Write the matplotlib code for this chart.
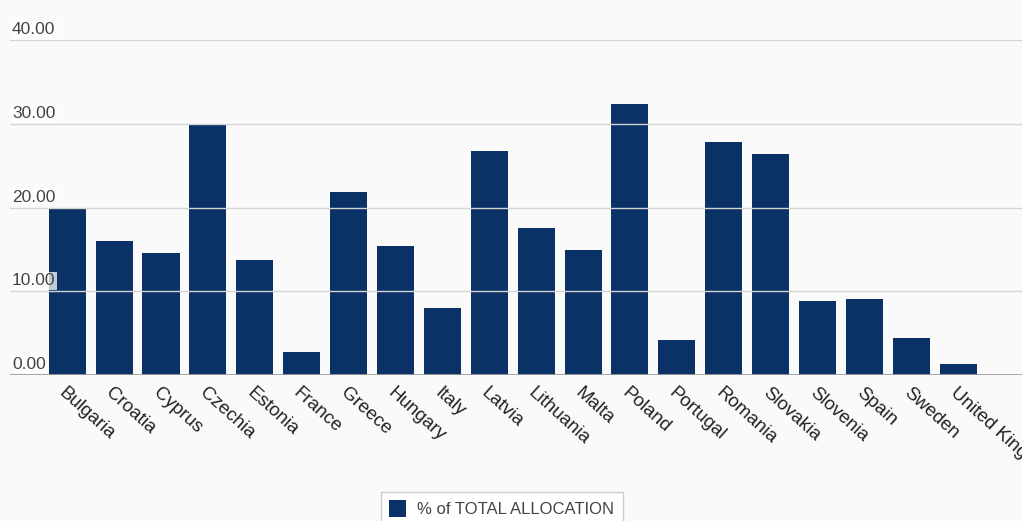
import matplotlib.pyplot as plt
from matplotlib.transforms import blended_transform_factory

plt.rcParams['font.family'] = ['Liberation Sans', 'DejaVu Sans']

countries = ['Bulgaria', 'Croatia', 'Cyprus', 'Czechia', 'Estonia', 'France', 'Greece',
             'Hungary', 'Italy', 'Latvia', 'Lithuania', 'Malta', 'Poland', 'Portugal',
             'Romania', 'Slovakia', 'Slovenia', 'Spain', 'Sweden', 'United Kingdom']
share = [19.9, 16.0, 14.6, 29.8, 13.7, 2.7, 21.8, 15.4, 8.0, 26.8,
         17.5, 14.9, 32.3, 4.2, 27.8, 26.4, 8.8, 9.1, 4.4, 1.3]
yticks = [0, 10, 20, 30, 40]
series_name = '% of TOTAL ALLOCATION'

bg = '#fafafa'
navy = '#0a3266'

# figure and axes
fig = plt.figure(figsize=(10.22, 5.21), dpi=100, facecolor=bg)
ax = fig.add_axes([10 / 1022, 1 - 375 / 521, 1 - 10 / 1022, (375 - 40) / 521])
ax.set_facecolor(bg)

# bars
x = range(len(countries))
ax.bar(x, share, width=0.79, color=navy, zorder=2, label=series_name)

# limits
ax.set_xlim(-1.22, len(countries) - 1 + 1.36)
ax.set_ylim(0, 40)

# grid drawn over the bars
for v in yticks[1:]:
    ax.axhline(v, color='#d4d4d4', linewidth=1, zorder=3)
ax.axhline(0, color='#9a9a9a', linewidth=2, zorder=4)

# y labels inside the plot
for s in ax.spines.values():
    s.set_visible(False)
ax.set_yticks([])
trans = blended_transform_factory(ax.transAxes, ax.transData)
for v in yticks:
    ax.text(0.002, v + 0.35, '%.2f' % v, transform=trans, ha='left', va='bottom',
            fontsize=12.5, color='#444444', zorder=5,
            bbox=dict(facecolor='white', alpha=0.75, edgecolor='none', pad=1))

# x labels
ax.set_xticks(list(x))
ax.set_xticklabels(countries, rotation=-42, ha='left', va='top', rotation_mode='anchor',
                   fontsize=13.5, color='#222222')
ax.tick_params(axis='x', length=0, pad=7)

# legend
leg = fig.legend(loc='upper center', bbox_to_anchor=(0.491, 0.047), frameon=True,
                 fancybox=False, edgecolor='#cccccc', facecolor='white', framealpha=1,
                 fontsize=12, handlelength=1.0, handleheight=1.2, borderpad=0.2,
                 handletextpad=0.7, borderaxespad=0, labelcolor='#444444')
leg.get_frame().set_boxstyle('square', pad=0.3)

fig.savefig('out.png', dpi=100, facecolor=bg)
